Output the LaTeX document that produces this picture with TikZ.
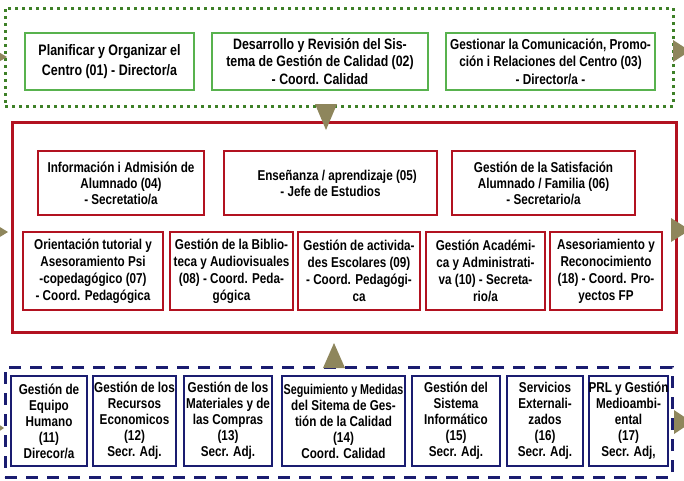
\documentclass[tikz,border=0pt]{standalone}
\usepackage{fontspec}
\setmainfont{Liberation Sans}[FakeStretch=0.82]
\definecolor{gin}{RGB}{88,178,78}
\definecolor{gout}{RGB}{62,128,40}
\definecolor{redc}{RGB}{178,18,32}
\definecolor{navy}{RGB}{26,28,112}
\definecolor{olivec}{RGB}{142,134,92}
\begin{document}
\begin{tikzpicture}[x=0.75pt,y=-0.75pt,
  box/.style={draw, inner sep=0pt, align=center, font=\bfseries\fontsize{10.7}{12}\selectfont},
  gbox/.style={box, draw=gin, line width=1.5pt, minimum height=57*0.75pt},
  rbox/.style={box, draw=redc, line width=1.6pt},
  bbox/.style={box, draw=navy, line width=1.5pt, minimum height=90*0.75pt},
  tri/.style={fill=olivec, draw=none},
  frame/.style={inner sep=0pt, line width=2.25pt}]
\useasboundingbox (0,0) rectangle (684,480);
\clip (0,0) rectangle (684,480);
\fill[white] (0,0) rectangle (684,480);

% outer frames
\node[frame, draw=gout, dash pattern=on 2.25pt off 3pt, minimum width=668*0.75pt, minimum height=98*0.75pt] (gframe) at (339,57) {};
\node[frame, draw=redc, minimum width=664*0.75pt, minimum height=210*0.75pt] (rframe) at (344,227) {};
\node[frame, draw=navy, dash pattern=on 9pt off 6.75pt, minimum width=667*0.75pt, minimum height=110*0.75pt] (bframe) at (338.5,422) {};

% green row
\node[gbox, minimum width=169*0.75pt, font=\bfseries\fontsize{11.4}{15}\selectfont] (g1) at (109.5,61.5) {Planificar y Organizar el\\Centro (01) - Director/a};
\node[gbox, minimum width=216*0.75pt, font=\bfseries\fontsize{11.3}{13.2}\selectfont] (g2) at (320,61.5) {Desarrollo y Revisión del Sis-\\tema de Gestión de Calidad (02)\\- Coord. Calidad};
\node[gbox, minimum width=209*0.75pt, font=\bfseries\fontsize{10.8}{13.2}\selectfont] (g3) at (550.5,61.5) {Gestionar la Comunicación, Promo-\\ción i Relaciones del Centro (03)\\- Director/a -};

% red row 1
\node[rbox, minimum width=166*0.75pt, minimum height=64*0.75pt] (r4) at (121,183) {Información i Admisión de\\Alumnado (04)\\- Secretatio/a};
\node[rbox, minimum width=213*0.75pt, minimum height=64*0.75pt] (r5) at (330.5,183) {\hspace*{10pt}Enseñanza / aprendizaje (05)\\- Jefe de Estudios};
\node[rbox, minimum width=183*0.75pt, minimum height=64*0.75pt] (r6) at (543.5,183) {Gestión de la Satisfación\\Alumnado / Familia (06)\\- Secretario/a};

% red row 2
\node[rbox, minimum width=140*0.75pt, minimum height=78*0.75pt, font=\bfseries\fontsize{10.7}{12.75}\selectfont] (r7) at (93,271) {Orientación tutorial y\\Asesoramiento Psi\\-copedagógico (07)\\- Coord. Pedagógica};
\node[rbox, minimum width=123*0.75pt, minimum height=78*0.75pt, font=\bfseries\fontsize{10.7}{12.75}\selectfont] (r8) at (231.5,271) {Gestión de la Biblio-\\teca y Audiovisuales\\(08) - Coord. Peda-\\gógica};
\node[rbox, minimum width=122*0.75pt, minimum height=78*0.75pt, font=\bfseries\fontsize{10.7}{12.75}\selectfont] (r9) at (359,271) {Gestión de activida-\\des Escolares (09)\\- Coord. Pedagógi-\\ca};
\node[rbox, minimum width=119*0.75pt, minimum height=78*0.75pt, font=\bfseries\fontsize{10.7}{12.75}\selectfont] (r10) at (485.5,271) {Gestión Académi-\\ca y Administrati-\\va (10) - Secreta-\\rio/a};
\node[rbox, minimum width=112*0.75pt, minimum height=78*0.75pt, font=\bfseries\fontsize{10.7}{12.75}\selectfont] (r18) at (606,271) {Asesoriamiento y\\Reconocimiento\\(18) - Coord. Pro-\\yectos FP};

% blue row
\node[bbox, minimum width=76*0.75pt] (b11) at (49,421) {Gestión de\\Equipo\\Humano\\(11)\\Direcor/a};
\node[bbox, minimum width=83*0.75pt] (b12) at (134.5,421) {Gestión de los\\Recursos\\Economicos\\(12)\\Secr. Adj.};
\node[bbox, minimum width=88*0.75pt] (b13) at (228,421) {Gestión de los\\Materiales y de\\las Compras\\(13)\\Secr. Adj.};
\node[bbox, minimum width=123*0.75pt] (b14) at (343.5,421) {\scalebox{0.92}[1]{Seguimiento y Medidas}\\del Sitema de Ges-\\tión de la Calidad\\(14)\\Coord. Calidad};
\node[bbox, minimum width=88*0.75pt] (b15) at (456,421) {Gestión del\\Sistema\\Informático\\(15)\\Secr. Adj.};
\node[bbox, minimum width=76*0.75pt] (b16) at (545,421) {Servicios\\Externali-\\zados\\(16)\\Secr. Adj.};
\node[bbox, minimum width=79*0.75pt] (b17) at (628.5,421) {PRL y Gestión\\Medioambi-\\ental\\(17)\\Secr. Adj,};

% triangles
\fill[tri] (315,104) -- (337,104) -- (326,130) -- cycle;
\fill[tri] (323,368) -- (345,368) -- (334,343) -- cycle;
\fill[tri] (-10,47) -- (-10,67) -- (7,57) -- cycle;
\fill[tri] (-10,221) -- (-10,243) -- (8,232) -- cycle;
\fill[tri] (-12,417) -- (-12,439) -- (4,428) -- cycle;
\fill[tri] (673,40) -- (673,62) -- (690,51) -- cycle;
\fill[tri] (671,218) -- (671,242) -- (690,230) -- cycle;
\fill[tri] (674,410) -- (674,434) -- (692,422) -- cycle;
\end{tikzpicture}
\end{document}
